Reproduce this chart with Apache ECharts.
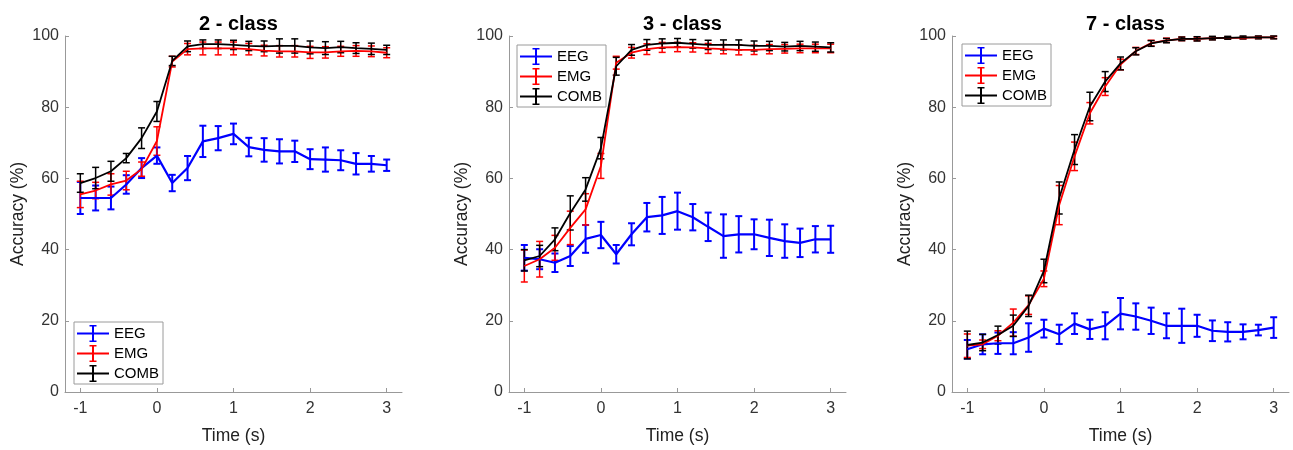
<!DOCTYPE html>
<html><head><meta charset="utf-8">
<script src="https://cdn.jsdelivr.net/npm/echarts@6/dist/echarts.min.js"></script>
<style>html,body{margin:0;padding:0;background:#fff}#c{width:1293px;height:450px}</style>
</head><body><div id="c"></div>
<script>
// ---------- data ----------
const time = [-1, -0.8, -0.6, -0.4, -0.2, 0, 0.2, 0.4, 0.6, 0.8, 1, 1.2, 1.4, 1.6, 1.8, 2, 2.2, 2.4, 2.6, 2.8, 3];
const xTicks = [-1, 0, 1, 2, 3];
const titles = ['2 - class', '3 - class', '7 - class'];
const names = ['EEG', 'EMG', 'COMB'];

// 2-class
const eeg2    = [54.5, 54.5, 54.5, 58.3, 62.9, 66.4, 58.7, 62.9, 70.4, 71.3, 72.5, 68.8, 68.0, 67.6, 67.6, 65.4, 65.3, 65.1, 64.1, 64.1, 63.7];
const eeg2Err = [4.5, 3.5, 3.2, 2.6, 2.8, 2.3, 2.3, 3.4, 4.4, 3.4, 2.9, 2.6, 3.3, 3.4, 3.0, 2.8, 3.4, 2.8, 3.0, 2.2, 1.6];
const emg2    = [55.5, 56.6, 58.3, 59.4, 62.6, 70.5, 92.8, 96.3, 96.5, 96.5, 96.5, 96.3, 95.9, 95.7, 95.7, 95.4, 95.4, 95.7, 95.8, 95.7, 95.3];
const emg2Err = [3.7, 2.3, 3.0, 2.6, 2.0, 4.0, 1.5, 1.6, 1.8, 1.8, 1.8, 1.6, 1.5, 1.6, 1.6, 1.7, 1.6, 1.4, 1.5, 1.5, 1.4];
const comb2    = [58.7, 60.1, 62.0, 65.7, 71.3, 78.8, 93.0, 97.1, 97.7, 97.7, 97.5, 97.2, 97.1, 97.2, 97.2, 96.8, 96.6, 96.9, 96.6, 96.4, 96.1];
const comb2Err = [2.6, 3.0, 2.8, 1.3, 2.9, 2.8, 1.3, 1.5, 1.2, 1.2, 1.3, 1.3, 1.5, 2.0, 2.0, 1.8, 1.8, 1.6, 1.5, 1.6, 1.3];

// 3-class
const eeg3    = [37.7, 37.3, 36.3, 38.2, 43.0, 44.1, 38.7, 44.3, 49.1, 49.6, 50.8, 49.1, 46.4, 43.8, 44.3, 44.3, 43.3, 42.4, 41.9, 42.9, 42.9];
const eeg3Err = [3.6, 2.8, 2.6, 2.8, 3.9, 3.7, 2.6, 3.1, 4.0, 5.2, 5.2, 3.7, 4.0, 6.1, 5.1, 4.2, 5.1, 4.7, 4.0, 3.7, 3.8];
const emg3    = [35.4, 37.3, 40.5, 46.1, 51.3, 63.5, 92.5, 95.3, 96.3, 96.8, 96.9, 96.8, 96.5, 96.3, 96.1, 96.1, 96.3, 96.4, 96.5, 96.5, 96.5];
const emg3Err = [4.5, 5.0, 3.5, 4.7, 4.4, 3.5, 1.8, 1.5, 1.5, 1.4, 1.3, 1.3, 1.4, 1.3, 1.4, 1.3, 1.3, 1.2, 1.2, 1.2, 1.2];
const comb3    = [37.0, 38.2, 42.9, 50.3, 56.9, 68.5, 91.5, 96.1, 97.5, 97.9, 98.1, 97.8, 97.5, 97.5, 97.5, 97.2, 97.2, 97.0, 97.2, 97.0, 96.8];
const comb3Err = [3.0, 3.0, 3.2, 4.8, 3.3, 3.0, 2.5, 1.5, 1.5, 1.3, 1.2, 1.2, 1.3, 1.4, 1.4, 1.4, 1.3, 1.2, 1.3, 1.3, 1.3];

// 7-class
const eeg7    = [12.0, 13.4, 13.7, 13.7, 15.3, 17.8, 16.2, 19.2, 17.6, 18.6, 22.0, 21.2, 20.0, 18.6, 18.6, 18.6, 17.2, 16.9, 16.9, 17.4, 18.1];
const eeg7Err = [2.6, 2.8, 3.0, 3.1, 4.0, 2.5, 2.7, 2.9, 2.7, 3.8, 4.4, 3.7, 3.7, 3.5, 4.8, 3.1, 2.9, 2.7, 2.1, 1.5, 2.9];
const emg7    = [13.0, 13.4, 15.8, 19.5, 24.4, 31.8, 52.5, 66.2, 78.3, 85.8, 92.0, 95.8, 98.0, 98.8, 99.2, 99.2, 99.4, 99.5, 99.5, 99.6, 99.6];
const emg7Err = [3.3, 1.2, 1.4, 3.8, 2.6, 2.2, 5.5, 4.0, 3.0, 2.5, 1.5, 1.0, 0.8, 0.6, 0.5, 0.5, 0.4, 0.3, 0.3, 0.3, 0.3];
const comb7    = [13.2, 13.9, 16.0, 18.6, 24.2, 34.0, 54.5, 68.1, 80.2, 87.2, 92.3, 95.7, 97.9, 98.7, 99.2, 99.2, 99.4, 99.5, 99.6, 99.6, 99.6];
const comb7Err = [3.9, 2.3, 2.5, 3.0, 3.0, 3.3, 4.5, 4.2, 4.0, 2.8, 1.8, 1.0, 0.8, 0.6, 0.5, 0.6, 0.5, 0.4, 0.4, 0.4, 0.4];

// ---------- layout / style ----------
const FONT = '"Liberation Sans", Arial, sans-serif';
const colors = ['#0000ff', '#ff0000', '#000000'];
const lineW = [2.2, 1.8, 1.8];
const errW = [2, 1.5, 1.5];
const gridLefts = [65, 509, 952];
const gridW = 337, gridTop = 36, gridH = 356.5;
const legendPos = [{left: 74, top: 322}, {left: 517, top: 45}, {left: 962, top: 44}];

const panels = [
  [[eeg2, eeg2Err], [emg2, emg2Err], [comb2, comb2Err]],
  [[eeg3, eeg3Err], [emg3, emg3Err], [comb3, comb3Err]],
  [[eeg7, eeg7Err], [emg7, emg7Err], [comb7, comb7Err]]
];

function errRender(color, width) {
  return function (params, api) {
    const x = api.value(0), y = api.value(1), e = api.value(2);
    const lo = api.coord([x, y - e]), hi = api.coord([x, y + e]);
    const cap = 3.5;
    const style = {stroke: color, lineWidth: width, fill: null};
    return {type: 'group', children: [
      {type: 'line', shape: {x1: lo[0], y1: lo[1], x2: hi[0], y2: hi[1]}, style: style},
      {type: 'line', shape: {x1: lo[0] - cap, y1: lo[1], x2: lo[0] + cap, y2: lo[1]}, style: style},
      {type: 'line', shape: {x1: hi[0] - cap, y1: hi[1], x2: hi[0] + cap, y2: hi[1]}, style: style}
    ]};
  };
}

const legendIcon = 'path://M0,7.5H32V9.5H0Z M15,0H17V17H15Z M12.5,0H19.5V1.6H12.5Z M12.5,15.4H19.5V17H12.5Z';

const grid = [], xAxis = [], yAxis = [], series = [], title = [], legend = [];
panels.forEach(function (p, k) {
  grid.push({left: gridLefts[k], top: gridTop, width: gridW, height: gridH});
  title.push({
    text: titles[k], left: gridLefts[k] + gridW / 2, top: 9, textAlign: 'center',
    textStyle: {fontFamily: FONT, fontSize: 20, fontWeight: 'bold', color: '#000'}
  });
  legend.push({
    data: names, orient: 'vertical', left: legendPos[k].left, top: legendPos[k].top,
    icon: legendIcon, itemWidth: 32, itemHeight: 17, itemGap: 3,
    padding: [3, 4, 2, 3], borderColor: '#9a9a9a', borderWidth: 1, backgroundColor: '#fff',
    itemStyle: {borderWidth: 0},
    textStyle: {fontFamily: FONT, fontSize: 15, color: '#000'},
    selectedMode: false
  });
  xAxis.push({
    type: 'value', gridIndex: k, min: -1.2, max: 3.2,
    name: 'Time (s)', nameLocation: 'middle', nameGap: 35,
    nameTextStyle: {fontFamily: FONT, fontSize: 17.5, color: '#222'},
    axisLine: {show: true, onZero: false, lineStyle: {color: '#999', width: 1}},
    axisTick: {show: true, inside: true, length: 4, customValues: xTicks, lineStyle: {color: '#999'}},
    axisLabel: {customValues: xTicks, margin: 9, fontFamily: FONT, fontSize: 16, color: '#333'},
    splitLine: {show: false}
  });
  yAxis.push({
    type: 'value', gridIndex: k, min: 0, max: 100, interval: 20,
    name: 'Accuracy (%)', nameLocation: 'middle', nameGap: 38,
    nameTextStyle: {fontFamily: FONT, fontSize: 17.5, color: '#222'},
    axisLine: {show: true, onZero: false, lineStyle: {color: '#999', width: 1}},
    axisTick: {show: true, inside: true, length: 4, lineStyle: {color: '#999'}},
    axisLabel: {margin: 6, fontFamily: FONT, fontSize: 16, color: '#333'},
    splitLine: {show: false}
  });
  p.forEach(function (s, j) {
    const vals = s[0], errs = s[1];
    series.push({
      type: 'custom', name: names[j] + ' err', xAxisIndex: k, yAxisIndex: k,
      renderItem: errRender(colors[j], errW[j]),
      encode: {x: 0, y: 1},
      data: time.map(function (t, i) { return [t, vals[i], errs[i]]; }),
      silent: true
    });
    series.push({
      type: 'line', name: names[j], xAxisIndex: k, yAxisIndex: k,
      showSymbol: false, symbol: 'none',
      color: colors[j],
      itemStyle: {color: colors[j]},
      lineStyle: {color: colors[j], width: lineW[j]},
      data: time.map(function (t, i) { return [t, vals[i]]; }),
      silent: true, animation: false
    });
  });
});

const chart = echarts.init(document.getElementById('c'), null, {renderer: 'canvas'});
chart.setOption({
  animation: false,
  backgroundColor: '#fff',
  title: title, legend: legend, grid: grid, xAxis: xAxis, yAxis: yAxis, series: series
});
</script>
</body></html>
